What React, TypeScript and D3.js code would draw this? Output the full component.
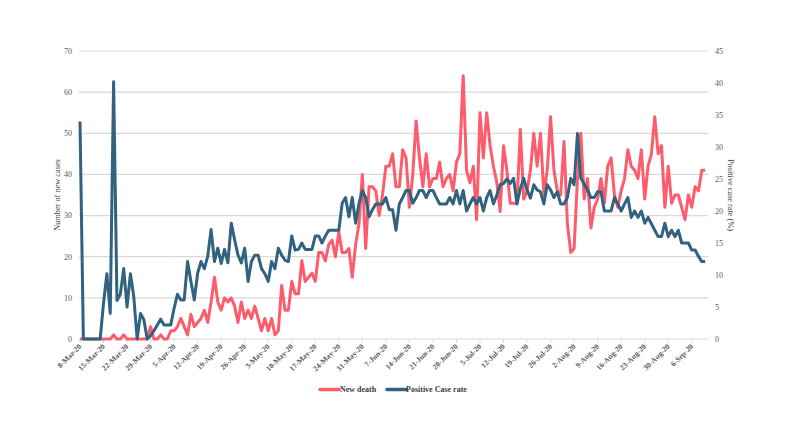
import React from "react";
import * as d3 from "d3";

const xTickLabels = [
  "8-Mar-20", "15-Mar-20", "22-Mar-20", "29-Mar-20", "5-Apr-20", "12-Apr-20", "19-Apr-20",
  "26-Apr-20", "3-May-20", "10-May-20", "17-May-20", "24-May-20", "31-May-20", "7-Jun-20",
  "14-Jun-20", "21-Jun-20", "28-Jun-20", "5-Jul-20", "12-Jul-20", "19-Jul-20", "26-Jul-20",
  "2-Aug-20", "9-Aug-20", "16-Aug-20", "23-Aug-20", "30-Aug-20", "6-Sep-20",
];

const leftTicks = [0, 10, 20, 30, 40, 50, 60, 70];
const rightTicks = [0, 5, 10, 15, 20, 25, 30, 35, 40, 45];

// New death (left axis), daily from 8-Mar-20
const newDeath = [
  0, 0, 0, 0, 0, 0, 0, 0, 0, 0,
  1, 0, 0, 1, 0, 0, 0, 0, 0, 0,
  0, 3, 0, 0, 1, 0, 0, 2, 2, 3,
  5, 3, 1, 6, 3, 4, 5, 7, 4, 9,
  15, 9, 7, 10, 9, 10, 8, 4, 9, 5,
  7, 5, 8, 5, 2, 5, 2, 5, 1, 2,
  13, 7, 7, 14, 11, 11, 19, 14, 15, 16,
  14, 21, 21, 19, 23, 24, 20, 26, 21, 21,
  22, 15, 23, 28, 40, 22, 37, 37, 36, 30,
  35, 42, 42, 45, 37, 37, 46, 44, 32, 40,
  53, 44, 37, 45, 37, 39, 39, 43, 37, 39,
  40, 36, 43, 45, 64, 41, 38, 42, 29, 55,
  44, 55, 47, 42, 38, 31, 47, 41, 33, 33,
  33, 51, 34, 36, 41, 50, 42, 50, 35, 41,
  54, 41, 36, 35, 48, 28, 21, 22, 39, 50,
  34, 39, 27, 32, 34, 39, 33, 42, 44, 35,
  32, 36, 39, 46, 42, 41, 39, 46, 34, 42,
  45, 54, 45, 47, 32, 42, 33, 35, 35, 32,
  29, 35, 32, 37, 36, 41, 41,
];

// Positive case rate % (right axis), daily from 8-Mar-20
const positiveRate = [
  34, 0, 0, 0, 0, 0, 0, 5.6, 10.2, 4,
  40.2, 6, 7, 11, 5, 10.2, 6.6, 0, 4, 3,
  0, 0.5, 1.3, 2.2, 3.1, 2.2, 2.2, 2.2, 4.8, 7,
  6.1, 6.1, 12.1, 9, 6.1, 10.3, 12.1, 11, 12.9, 17.1,
  12.1, 14.2, 11.8, 14, 11.9, 18.1, 15.5, 13.1, 11.9, 14.2,
  9, 12.1, 13.1, 13.1, 11, 10.2, 9, 12.1, 11, 14.2,
  13.1, 12.3, 12.1, 16.1, 13.9, 14, 15, 14, 14, 14,
  16.1, 16.1, 15, 16.1, 17, 17, 17, 17, 21.2, 22.1,
  19.1, 22.1, 18.1, 21.2, 23.2, 22.1, 19.1, 20.2, 21.1, 21.1,
  21.1, 22.1, 20.2, 20.2, 17, 21.1, 22.1, 23.2, 23.2, 21.2,
  22.1, 23.2, 23.2, 22.1, 23.2, 23.2, 22.1, 21.1, 21.1, 21.1,
  22.1, 21.1, 23.2, 21.1, 23.2, 20, 21.1, 22.1, 21.1, 22.1,
  20, 22.1, 23.2, 21.1, 22.5, 24.1, 24.3, 25, 24.3, 25.1,
  21.1, 23.5, 25.1, 23.3, 22, 24.1, 23.3, 23, 21.1, 24.1,
  23.3, 22.1, 23, 21.1, 21.1, 22.1, 25.1, 24.1, 32.1, 25.1,
  24.2, 23.3, 22.1, 22.1, 23, 23, 20, 20, 20, 22.1,
  21.1, 20, 21.1, 22.1, 19, 20, 19, 20, 18.1, 19,
  18, 17, 16, 16, 18.1, 16, 17, 16, 17, 15,
  15, 15, 13.9, 13.9, 12.9, 12.1, 12.1,
];

const RED = "#fd5c6c";
const BLUE = "#31627f";
const FONT = "'Liberation Serif', 'Times New Roman', serif";

export default function App() {
  const W = 787;
  const H = 443;
  const left = 79;
  const right = 708;
  const top = 51;
  const bottom = 339;
  const n = newDeath.length;

  const x = d3.scaleLinear().domain([0, n - 1]).range([80, 705.2]);
  const yL = d3.scaleLinear().domain([0, 70]).range([bottom, top]);
  const yR = d3.scaleLinear().domain([0, 45]).range([bottom, top]);

  const lineL = d3.line<number>().x((_, i) => x(i)).y((d) => yL(d));
  const lineR = d3.line<number>().x((_, i) => x(i)).y((d) => yR(d));

  return (
    <svg width={W} height={H} style={{ position: "absolute", left: 0, top: 0, background: "#fff" }}>
      <rect x={0} y={0} width={W} height={H} fill="#fff" />
      {leftTicks.map((t) => (
        <line key={"g" + t} x1={left} x2={right} y1={yL(t)} y2={yL(t)} stroke="#d9d9d9" strokeWidth={1.2} />
      ))}
      {xTickLabels.map((_, k) => (
        <line key={"tm" + k} x1={x(k * 7)} x2={x(k * 7)} y1={bottom} y2={bottom + 4} stroke="#d9d9d9" strokeWidth={1} />
      ))}
      {leftTicks.map((t) => (
        <text key={"l" + t} x={72} y={yL(t)} dy="0.35em" textAnchor="end" fontFamily={FONT} fontSize={8} fill="#595959">
          {t}
        </text>
      ))}
      {rightTicks.map((t) => (
        <text key={"r" + t} x={715} y={yR(t)} dy="0.35em" textAnchor="start" fontFamily={FONT} fontSize={8} fill="#595959">
          {t}
        </text>
      ))}
      {xTickLabels.map((lab, k) => (
        <text
          key={"x" + k}
          transform={`translate(${x(k * 7) + 2},${bottom + 8}) rotate(-45)`}
          textAnchor="end"
          fontFamily={FONT}
          fontSize={7.6}
          fontWeight="bold"
          fill="#595959"
        >
          {lab}
        </text>
      ))}
      <text transform={`translate(60,195) rotate(-90)`} textAnchor="middle" fontFamily={FONT} fontSize={8.3} fill="#404040">
        Number of new cases
      </text>
      <text transform={`translate(728,195) rotate(90)`} textAnchor="middle" fontFamily={FONT} fontSize={8.3} fill="#404040">
        Positive case rate (%)
      </text>
      <path d={lineL(newDeath) || ""} fill="none" stroke={RED} strokeWidth={3} strokeLinejoin="round" />
      <path d={lineR(positiveRate) || ""} fill="none" stroke={BLUE} strokeWidth={3} strokeLinejoin="round" />
      <g>
        <line x1={320} x2={339} y1={389.5} y2={389.5} stroke={RED} strokeWidth={3.5} strokeLinecap="round" />
        <text x={340} y={389.5} dy="0.35em" fontFamily={FONT} fontSize={8} fontWeight="bold" fill="#404040">
          New death
        </text>
        <line x1={387} x2={406} y1={389.5} y2={389.5} stroke={BLUE} strokeWidth={3.5} strokeLinecap="round" />
        <text x={406} y={389.5} dy="0.35em" fontFamily={FONT} fontSize={8} fontWeight="bold" fill="#404040">
          Positive Case rate
        </text>
      </g>
    </svg>
  );
}
